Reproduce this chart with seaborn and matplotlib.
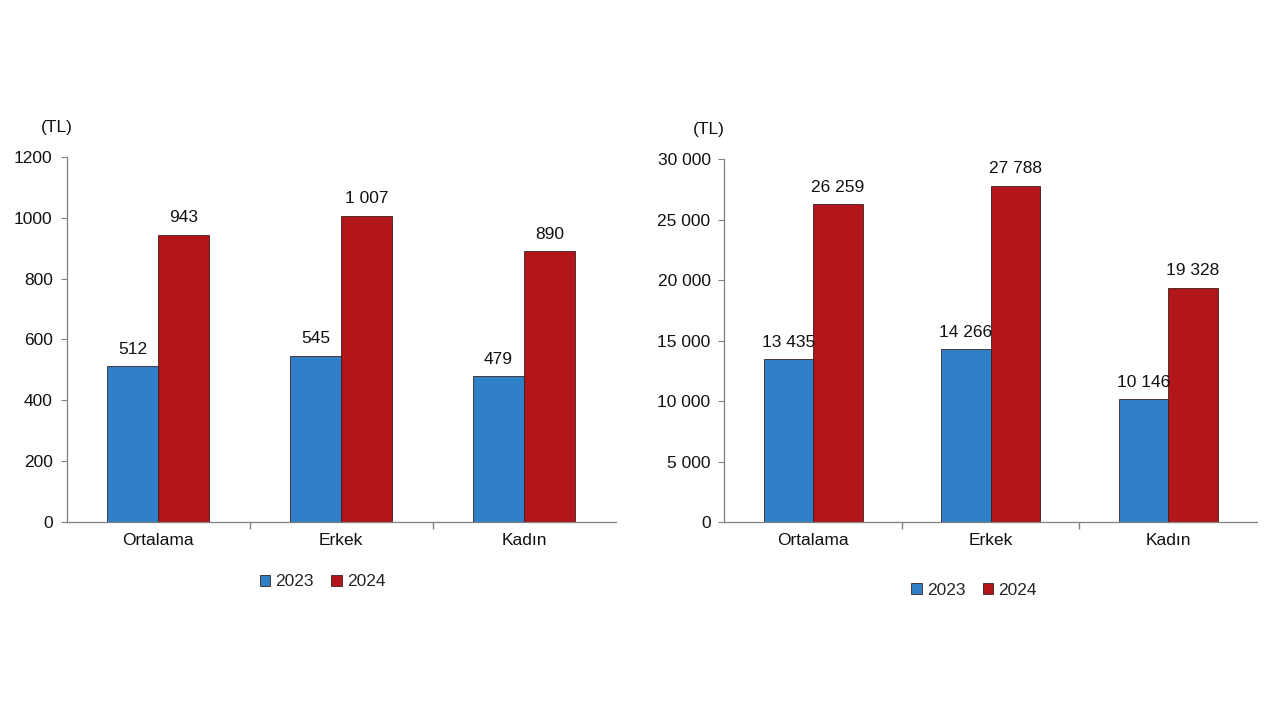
import matplotlib
matplotlib.use("Agg")
import matplotlib.pyplot as plt
import numpy as np
import pandas as pd
import seaborn as sns

sns.set_style("white")
plt.rcParams['font.family'] = ['Liberation Sans', 'DejaVu Sans']

categories = ['Ortalama', 'Erkek', 'Kadın']
years = ['2023', '2024']
left_2023 = [512, 545, 479]
left_2024 = [943, 1007, 890]
right_2023 = [13435, 14266, 10146]
right_2024 = [26259, 27788, 19328]
left_ticks = [0, 200, 400, 600, 800, 1000, 1200]
right_ticks = [0, 5000, 10000, 15000, 20000, 25000, 30000]

palette = {'2023': '#2f80c6', '2024': '#b2161b'}
FS = 12.5


def make_df(v23, v24):
    rows = []
    for c, a, b in zip(categories, v23, v24):
        rows.append((c, '2023', a))
        rows.append((c, '2024', b))
    return pd.DataFrame(rows, columns=['cat', 'year', 'val'])


def fmt(v):
    return f"{v:,}".replace(",", " ")


fig = plt.figure(figsize=(12.8, 7.2), dpi=100)
ax1 = fig.add_axes([0.052, 0.275, 0.429, 0.507])
ax2 = fig.add_axes([0.566, 0.275, 0.416, 0.504])

# (axes, data, y ticks, tick format, legend centre, "(TL)" x offset)
panels = [
    (ax1, make_df(left_2023, left_2024), left_ticks, lambda t: str(t), (0.252, 0.192), -0.018),
    (ax2, make_df(right_2023, right_2024), right_ticks, fmt, (0.761, 0.180), -0.03),
]

for ax, df, ticks, tfmt, leg, tlx in panels:
    sns.barplot(data=df, x='cat', y='val', hue='year', palette=palette,
                saturation=1, width=0.56, edgecolor='#3a2020', linewidth=0.6,
                ax=ax, legend=True)
    ax.set_ylim(ticks[0], ticks[-1])
    ax.set_xlim(-0.5, 2.5)
    ax.set_yticks(ticks)
    ax.set_yticklabels([tfmt(t) for t in ticks], fontsize=FS, color='#111111')
    ax.set_xlabel('')
    ax.set_ylabel('')
    ax.set_xticks([0, 1, 2])
    ax.set_xticklabels(categories, fontsize=FS, color='#111111')
    ax.tick_params(axis='x', which='major', bottom=True, length=0, pad=8)
    ax.tick_params(axis='y', left=True, length=4, color='#808080', direction='out', pad=6)
    # small ticks between the groups
    ax.set_xticks([0.5, 1.5], minor=True)
    ax.tick_params(axis='x', which='minor', bottom=True, length=5, width=1,
                   color='#808080', direction='out')
    for s in ['top', 'right']:
        ax.spines[s].set_visible(False)
    for s in ['left', 'bottom']:
        ax.spines[s].set_color('#808080')
        ax.spines[s].set_linewidth(0.9)
    for cont in ax.containers:
        ax.bar_label(cont, labels=[fmt(int(v)) for v in cont.datavalues],
                     padding=7, fontsize=FS, color='#111111')
    ax.text(tlx, 1.06, '(TL)', transform=ax.transAxes, ha='center',
            va='bottom', fontsize=FS, color='#111111')
    handles, labels = ax.get_legend_handles_labels()
    ax.legend(handles, labels, loc='center', bbox_to_anchor=leg,
              bbox_transform=fig.transFigure, ncol=2, frameon=False,
              fontsize=FS, handlelength=0.6, handleheight=0.6,
              handletextpad=0.3, columnspacing=1.0)

fig.savefig("out.png", dpi=100)
